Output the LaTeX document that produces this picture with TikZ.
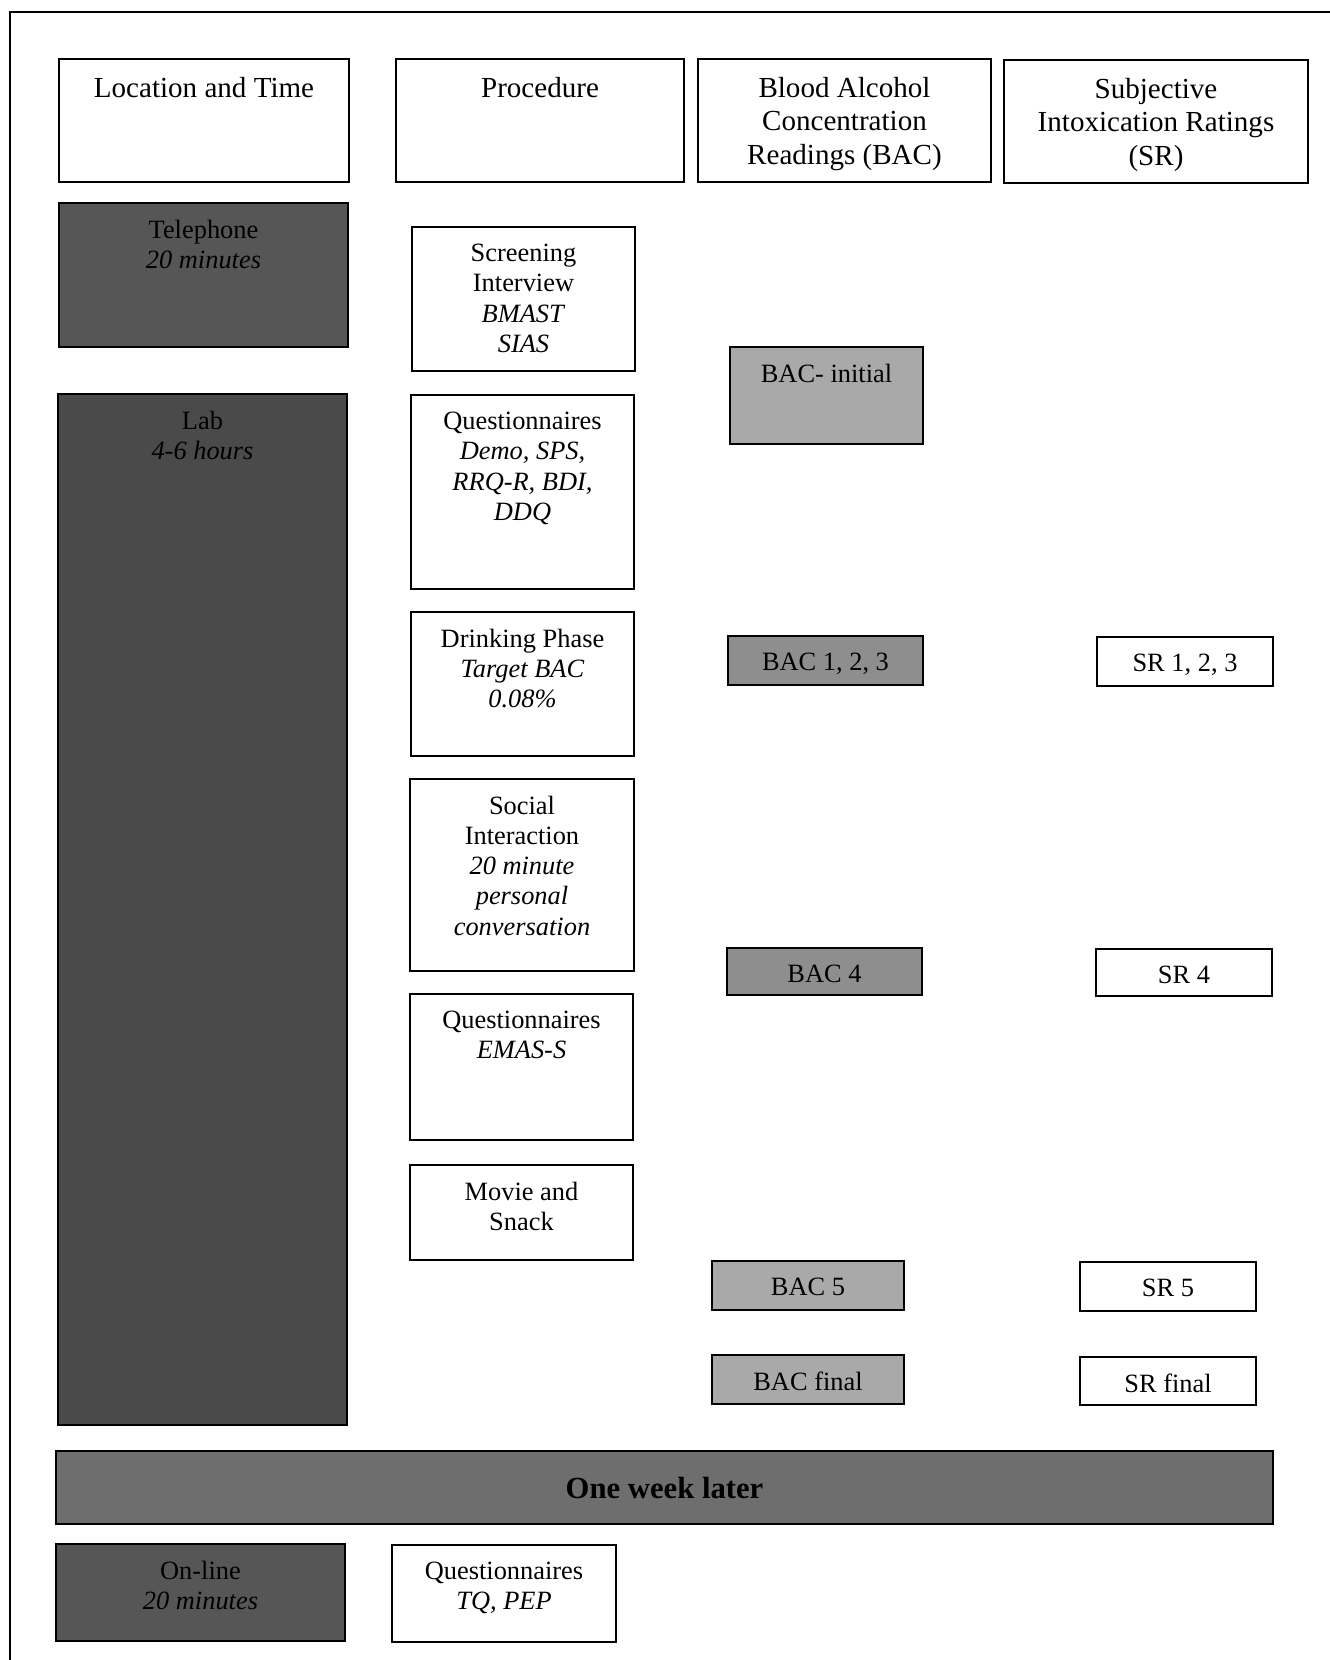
\documentclass[tikz,border=0pt]{standalone}
\usepackage{fontspec}
\setmainfont{Liberation Serif}
\usetikzlibrary{positioning}
\definecolor{granite}{HTML}{565656}
\definecolor{granitedeep}{HTML}{4A4A4A}
\definecolor{granitemid}{HTML}{6E6E6E}
\definecolor{ashgray}{HTML}{A9A9A9}
\definecolor{ashgraydark}{HTML}{8E8E8E}
\newcommand{\procfont}{\fontsize{19.8}{22.6}\selectfont}
\newcommand{\hdrfont}{\fontsize{21.8}{25.4}\selectfont}

\begin{document}
\begin{tikzpicture}[x=0.75pt, y=-0.75pt, line join=miter,
    cell/.style={draw=black, line width=1.5pt, anchor=north west, inner sep=0pt},
    darkcell/.style={cell, fill=granite},
    graycell/.style={cell, fill=ashgray},
    toptext/.style={label={[anchor=north, yshift=-13.5pt, inner sep=0pt, align=center, font=\procfont]north:{#1}}},
    headtext/.style={label={[anchor=north, yshift=-14pt, inner sep=0pt, align=center, font=\hdrfont]north:{#1}}}]
      \useasboundingbox (0,0) rectangle (1330,1660);

      % Page frame
      \draw[line width=1.5pt] (10,1660) -- (10,12) -- (1330,12);

      % Column headers
      \node[cell, minimum width=217.5pt, minimum height=92.25pt, headtext={Location and Time}] (loc) at (58,58) {};
      \node[cell, minimum width=216pt, minimum height=92.25pt, headtext={Procedure}] (proc) at (395,58) {};
      \node[cell, minimum width=219.75pt, minimum height=92.25pt, headtext={Blood Alcohol\\Concentration\\Readings (BAC)}] (bac) at (697,58) {};
      \node[cell, minimum width=228pt, minimum height=92.25pt, headtext={Subjective\\Intoxication Ratings\\(SR)}] (sr) at (1003,59) {};

      % Location and time
      \node[darkcell, minimum width=216.75pt, minimum height=108pt, toptext={Telephone\\\textit{20 minutes}}] (tel) at (58,202) {};
      \node[darkcell, fill=granitedeep, minimum width=216.75pt, minimum height=773.25pt, toptext={Lab\\\textit{4-6 hours}}] (lab) at (57,393) {};
      \node[darkcell, fill=granitemid, minimum width=912.75pt, minimum height=54.75pt, font=\fontsize{23}{26}\selectfont\bfseries] (week) at (55,1450) {One week later};
      \node[darkcell, minimum width=216.75pt, minimum height=72.75pt, toptext={On-line\\\textit{20 minutes}}] (online) at (55,1543) {};

      % Procedure
      \node[cell, minimum width=167.25pt, minimum height=108pt, toptext={Screening\\Interview\\\textit{BMAST}\\\textit{SIAS}}] (screen) at (411,226) {};
      \node[cell, minimum width=167.25pt, minimum height=145.5pt, toptext={Questionnaires\\\textit{Demo, SPS,}\\\textit{RRQ-R, BDI,}\\\textit{DDQ}}] (qdemo) at (410,394) {};
      \node[cell, minimum width=167.25pt, minimum height=108pt, toptext={Drinking Phase\\\textit{Target BAC}\\\textit{0.08\%}}] (drink) at (410,611) {};
      \node[cell, minimum width=168pt, minimum height=144pt, toptext={Social\\Interaction\\\textit{20 minute}\\\textit{personal}\\\textit{conversation}}] (social) at (409,778) {};
      \node[cell, minimum width=167.25pt, minimum height=109.5pt, toptext={Questionnaires\\\textit{EMAS-S}}] (qemas) at (409,993) {};
      \node[cell, minimum width=167.25pt, minimum height=71.25pt, toptext={Movie and\\Snack}] (movie) at (409,1164) {};
      \node[cell, minimum width=168pt, minimum height=72.75pt, toptext={Questionnaires\\\textit{TQ, PEP}}] (qtq) at (391,1544) {};

      % BAC readings
      \node[graycell, minimum width=144.75pt, minimum height=72.75pt, toptext={BAC- initial}] (bacinit) at (729,346) {};
      \node[graycell, fill=ashgraydark, minimum width=146.25pt, minimum height=36.75pt, toptext={BAC 1, 2, 3}] (bacfirst) at (727,635) {};
      \node[graycell, fill=ashgraydark, minimum width=146.25pt, minimum height=35.25pt, toptext={BAC 4}] (bacfour) at (726,947) {};
      \node[graycell, minimum width=144pt, minimum height=36.75pt, toptext={BAC 5}] (bacfive) at (711,1260) {};
      \node[graycell, minimum width=144pt, minimum height=36.75pt, toptext={BAC final}] (bacfinal) at (711,1354) {};

      % Subjective ratings
      \node[cell, minimum width=132pt, minimum height=36.75pt, toptext={SR 1, 2, 3}] (srfirst) at (1096,636) {};
      \node[cell, minimum width=132pt, minimum height=35.25pt, toptext={SR 4}] (srfour) at (1095,948) {};
      \node[cell, minimum width=132pt, minimum height=36.75pt, toptext={SR 5}] (srfive) at (1079,1261) {};
      \node[cell, minimum width=132pt, minimum height=36pt, toptext={SR final}] (srfinal) at (1079,1356) {};
    \end{tikzpicture}
\end{document}
